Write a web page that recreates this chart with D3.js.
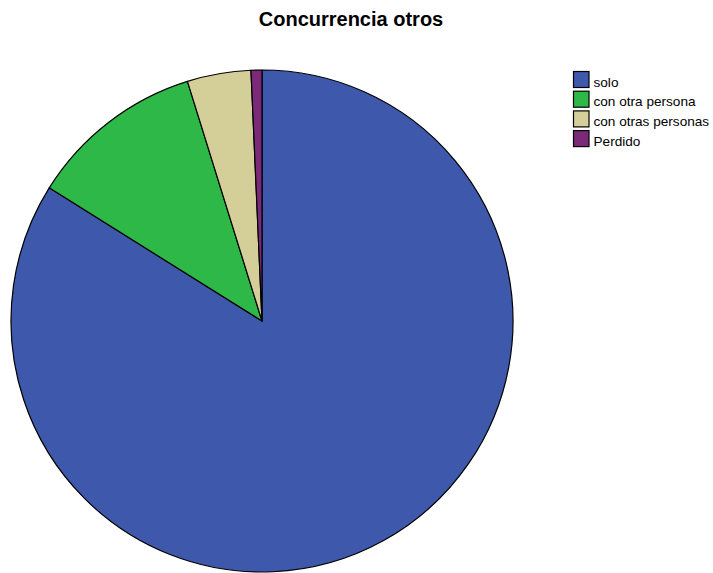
<!DOCTYPE html>
<html>
<head>
<meta charset="utf-8">
<script src="https://cdn.jsdelivr.net/npm/d3@7"></script>
<style>
  html, body { margin: 0; padding: 0; background: #fff; }
  svg { display: block; }
  text { font-family: "Liberation Sans", Arial, sans-serif; }
</style>
</head>
<body>
<svg id="chart" width="713" height="573"></svg>
<script>
// Share of each answer (percent)
const categories = ["solo", "con otra persona", "con otras personas", "Perdido"];
const values = [83.9, 11.3, 4.1, 0.7];
const colors = ["#3e58ac", "#2eb848", "#d4cf98", "#7a2a78"];
const title = "Concurrencia otros";

const svg = d3.select("#chart");

svg.append("text")
  .attr("x", 351).attr("y", 26)
  .attr("text-anchor", "middle")
  .style("font-size", "20px").style("font-weight", "bold")
  .text(title);

const cx = 262, cy = 321, r = 251;
const data = categories.map((c, i) => ({ name: c, value: values[i], color: colors[i] }));

const pie = d3.pie().sort(null).value(d => d.value);
const arc = d3.arc().innerRadius(0).outerRadius(r);

svg.append("g")
  .attr("transform", `translate(${cx},${cy})`)
  .selectAll("path")
  .data(pie(data))
  .join("path")
  .attr("d", arc)
  .attr("fill", d => d.data.color)
  .attr("stroke", "#000")
  .attr("stroke-width", 1.2)
  .attr("stroke-linejoin", "round");

// Legend
const legend = svg.append("g").attr("transform", "translate(573,71)");
const row = legend.selectAll("g")
  .data(data)
  .join("g")
  .attr("transform", (d, i) => `translate(0,${i * 19.7})`);
row.append("rect")
  .attr("x", 0.5).attr("y", 0.5)
  .attr("width", 15.5).attr("height", 16)
  .attr("fill", d => d.color)
  .attr("stroke", "#000").attr("stroke-width", 1.2);
row.append("text")
  .attr("x", 20.5).attr("y", 15.5)
  .style("font-size", "13.6px")
  .text(d => d.name);
</script>
</body>
</html>
